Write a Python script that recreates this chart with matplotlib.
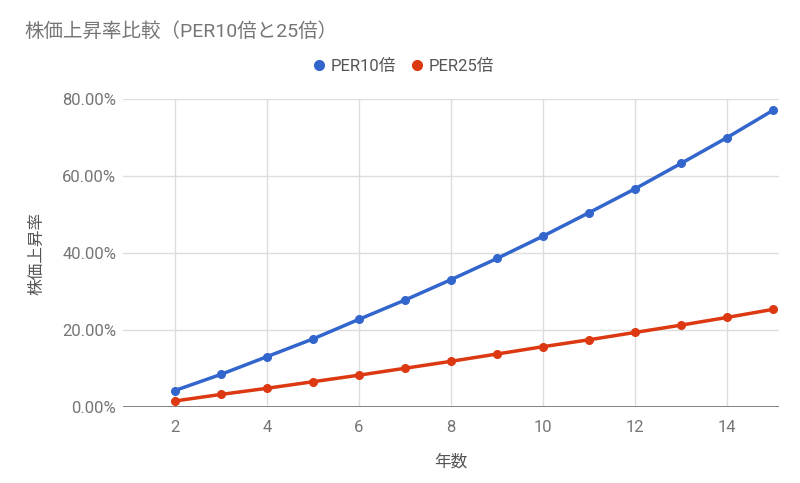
import matplotlib.pyplot as plt
from matplotlib.ticker import FuncFormatter

plt.rcParams['font.family'] = ['Roboto', 'Noto Sans CJK JP', 'DejaVu Sans']

years = [2, 3, 4, 5, 6, 7, 8, 9, 10, 11, 12, 13, 14, 15]
per10 = [4.3, 8.5, 13.1, 17.7, 22.8, 27.8, 33.1, 38.6, 44.4, 50.5, 56.7, 63.3, 70.0, 77.1]
per25 = [1.6, 3.3, 4.9, 6.6, 8.3, 10.1, 11.9, 13.8, 15.7, 17.5, 19.4, 21.3, 23.3, 25.4]

title = '株価上昇率比較（PER10倍と25倍）'
labels = ['PER10倍', 'PER25倍']
colors = ['#3366cc', '#dc3912']

fig = plt.figure(figsize=(8, 4.83), dpi=100)
ax = fig.add_axes([0.154, 0.157, 0.82, 0.638])

for vals, lab, c in zip([per10, per25], labels, colors):
    ax.plot(years, vals, color=c, lw=2.5, marker='o', ms=5.5, label=lab,
            solid_capstyle='round', zorder=3)

ax.set_xlim(0.88, 15.13)
ax.set_ylim(0, 80)
ax.set_xticks([2, 4, 6, 8, 10, 12, 14])
ax.set_yticks([0, 20, 40, 60, 80])
ax.yaxis.set_major_formatter(FuncFormatter(lambda v, p: f'{v:.2f}%'))
ax.grid(True, color='#dddddd', lw=1.0)
ax.set_axisbelow(True)
for s in ax.spines.values():
    s.set_visible(False)
ax.axhline(0, color='#777777', lw=1.3, zorder=2)
ax.tick_params(length=0, labelsize=12, labelcolor='#757575')
ax.tick_params(axis='x', pad=9)
ax.tick_params(axis='y', pad=5)

ax.set_xlabel('年数', fontsize=12, color='#555555', labelpad=14)
ax.set_ylabel('株価上昇率', fontsize=12, color='#555555', labelpad=13)

fig.text(0.03, 0.935, title, fontsize=14, color='#757575', va='center')
fig.legend(loc='center', bbox_to_anchor=(0.505, 0.863), ncol=2, frameon=False,
           fontsize=12, handlelength=0.6, handletextpad=0.4, columnspacing=1.0,
           labelcolor='#555555')
leg = fig.legends[0]
for h in leg.legend_handles:
    h.set_linestyle('none')
    h.set_markersize(7)

fig.savefig('out.png', dpi=100)
